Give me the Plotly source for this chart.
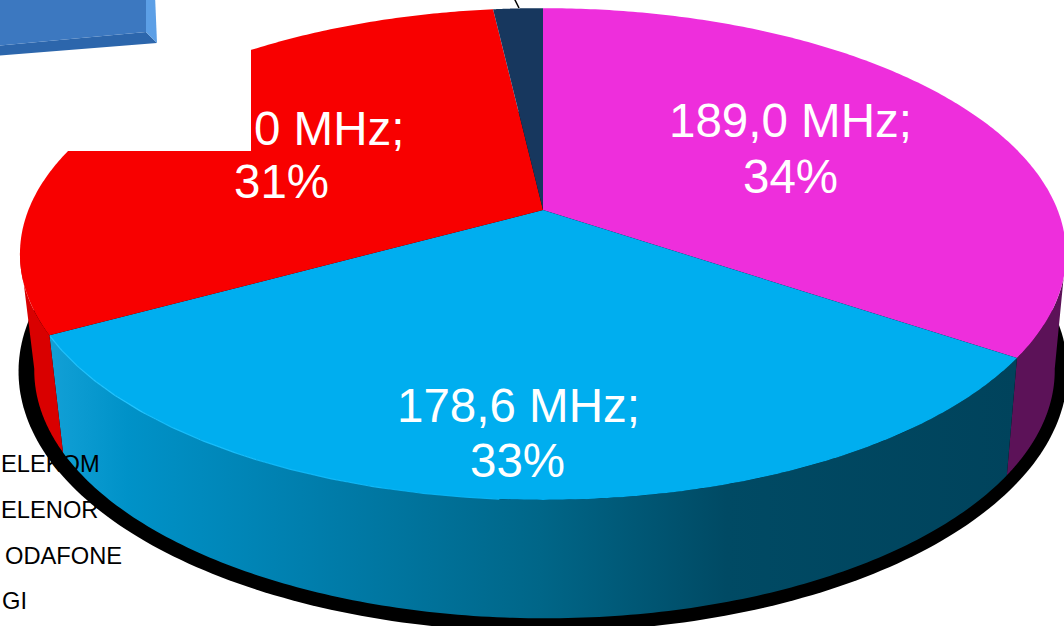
import numpy as np
import plotly.graph_objects as go

operators = ["VODAFONE", "TELEKOM", "TELENOR", "DIGI"]
mhz = [189.0, 178.6, 171.0, 10.0]
legend_visible = ["ELEKOM", "ELENOR", "ODAFONE", "GI"]
top_colors = ["#EE2EDC", "#00AEEF", "#F80000", "#17375E"]
side_colors = ["#5C1258", None, "#D90000", "#17375E"]

# perspective disc parameters (pixel space)
K = 0.179
TOP = dict(A=514.6, B=238.0, cy=210.0, cx=543.0)
BOTTOM = dict(A=502.0, B=240.0, cy=326.0, cx=544.5)
SHADOW = dict(A=516.0, B=252.0, cy=325.0, cx=543.0)


def rim(t, A, B, cy, cx):
    u, v = np.sin(t), np.cos(t)
    d = 1 + K * v
    return cx + A * u / d, cy - B * v / d


values = np.array(mhz)
edges = np.concatenate([[0], np.cumsum(values)]) / values.sum() * 2 * np.pi
fig = go.Figure()

# drop shadow
t = np.linspace(0, 2 * np.pi, 361)
sx, sy = rim(t, **SHADOW)
fig.add_trace(go.Scatter(x=sx, y=sy, fill="toself", fillcolor="#000000", mode="none"))

# side walls
limits = {0: (np.radians(100), edges[1]), 1: (edges[1], edges[2]), 2: (edges[2], np.radians(260))}
for i, (a, b) in limits.items():
    tt = np.linspace(a, b, 160)
    x1, y1 = rim(tt, **TOP)
    x2, y2 = rim(tt[::-1], **BOTTOM)
    kw = dict(x=np.r_[x1, x2], y=np.r_[y1, y2], fill="toself", mode="none")
    if i == 1:
        kw["fillgradient"] = dict(
            type="horizontal",
            colorscale=[[0, "#12A0D6"], [0.08, "#0092C8"], [0.26, "#007FAE"],
                        [0.507, "#006688"], [0.7, "#004A64"], [1, "#00435C"]],
        )
    else:
        kw["fillcolor"] = side_colors[i]
    fig.add_trace(go.Scatter(**kw))

# top faces
for i in range(len(values)):
    tt = np.linspace(edges[i], edges[i + 1], 200)
    x, y = rim(tt, **TOP)
    fig.add_trace(go.Scatter(x=np.r_[TOP["cx"], x, TOP["cx"]], y=np.r_[TOP["cy"], y, TOP["cy"]],
                             fill="toself", fillcolor=top_colors[i], mode="none"))

# rim highlight on blue slice, fading toward the front
fade = ["#22C4FF", "#18BEFB", "#10B8F7", "#08B3F3"]
stops = np.radians([241, 222, 208, 195, 184])
for j, col in enumerate(fade):
    tt = np.linspace(stops[j], stops[j + 1], 40)
    x, y = rim(tt, **TOP)
    fig.add_trace(go.Scatter(x=x, y=y, mode="lines", line=dict(color=col, width=1.2)))

# slice labels
fmt = [f"{v:.1f}".replace(".", ",") + " MHz;" for v in mhz]
pct = [f"{round(v / values.sum() * 100)}%" for v in mhz]
white = dict(family="Liberation Sans", size=47.5, color="#FFFFFF")
black = dict(family="Liberation Sans", size=23.7, color="#000000")
ann = [
    dict(x=790, y=120, text=fmt[0], font=white),
    dict(x=790, y=176.5, text=pct[0], font=white),
    dict(x=518, y=405, text=fmt[1], font=white),
    dict(x=517, y=460, text=pct[1], font=white),
    dict(x=329, y=128, text="0 MHz;", font=white),
    dict(x=281.5, y=181, text=pct[2], font=white),
    dict(x=102, y=464, text=legend_visible[0], font=black, xanchor="right"),
    dict(x=100, y=510, text=legend_visible[1], font=black, xanchor="right"),
    dict(x=124, y=556, text=legend_visible[2], font=black, xanchor="right"),
    dict(x=29, y=601, text=legend_visible[3], font=black, xanchor="right"),
]
for a in ann:
    a.update(xref="x", yref="y", showarrow=False, yanchor="middle")
    a.setdefault("xanchor", "center")

shapes = [
    dict(type="rect", x0=0, x1=251, y0=-5, y1=151, fillcolor="#FFFFFF", line_width=0, layer="above"),
    dict(type="path", path="M -5 46 L 146 32 L 157 43 L -5 56 Z", fillcolor="#2C66AC", line_width=0, layer="above"),
    dict(type="path", path="M 146 -5 L 155 -5 L 157 43 L 146 32 Z", fillcolor="#5C9FE6", line_width=0, layer="above"),
    dict(type="path", path="M -5 -5 L 146 -5 L 146 32 L -5 46 Z", fillcolor="#3C78C0", line_width=0, layer="above"),
    dict(type="line", x0=514, y0=-2, x1=519, y1=8, line=dict(color="#000000", width=1.5), layer="above"),
]

fig.update_layout(
    width=1064, height=626, margin=dict(l=0, r=0, t=0, b=0), showlegend=False,
    paper_bgcolor="#FFFFFF", plot_bgcolor="#FFFFFF",
    xaxis=dict(range=[0, 1064], visible=False, fixedrange=True),
    yaxis=dict(range=[626, 0], visible=False, fixedrange=True),
    annotations=ann, shapes=shapes,
)
fig.write_html("out.html", config={"displayModeBar": False},
               post_script="document.body.style.margin='0';document.body.style.overflow='hidden';")
